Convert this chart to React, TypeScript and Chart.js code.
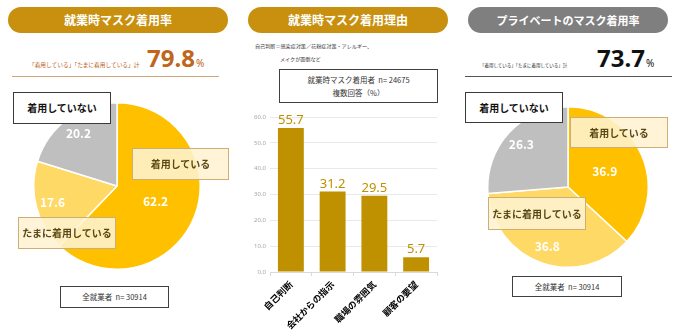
import React, { useEffect, useRef } from "react";
import { Chart, registerables } from "chart.js";

Chart.register(...registerables);

const pieLabels = ["着用している", "たまに着用している", "着用していない"];
const workValues = [62.2, 17.6, 20.2];
const privateValues = [36.9, 36.8, 26.3];
const reasonCategories = ["自己判断", "会社からの指示", "職場の雰囲気", "顧客の要望"];
const reasonValues = [55.7, 31.2, 29.5, 5.7];
const yTicks = [0, 10, 20, 30, 40, 50, 60];
const workTotal = "79.8";
const privateTotal = "73.7";
const workN = "30914";
const reasonN = "24675";
const privateN = "30914";

const JP = '"Noto Sans CJK JP", "Noto Sans", sans-serif';
const NUM = '"Noto Sans", "Noto Sans CJK JP", sans-serif';
const pieColors = ["#FFC000", "#FFD966", "#BFBFBF"];
const GOLD_HEADER = "#C8900E";
const BAR_COLOR = "#BF9000";

function PieChart(props: {
  values: number[];
  cx: number;
  cy: number;
  r: number;
  factors: number[];
}) {
  const ref = useRef<HTMLCanvasElement>(null);
  const { values, cx, cy, r, factors } = props;
  const size = r * 2 + 2;
  useEffect(() => {
    const labelPlugin = {
      id: "arcLabels",
      afterDatasetsDraw(chart: any) {
        const ctx = chart.ctx;
        const meta = chart.getDatasetMeta(0);
        ctx.save();
        ctx.fillStyle = "#ffffff";
        ctx.font = `bold 12px ${JP}`;
        ctx.textAlign = "center";
        ctx.textBaseline = "middle";
        meta.data.forEach((arc: any, i: number) => {
          const p = arc.getProps(["x", "y", "startAngle", "endAngle", "outerRadius"], true);
          const mid = (p.startAngle + p.endAngle) / 2;
          const rr = p.outerRadius * factors[i];
          ctx.fillText(values[i].toFixed(1), p.x + Math.cos(mid) * rr, p.y + Math.sin(mid) * rr);
        });
        ctx.restore();
      },
    };
    const chart = new Chart(ref.current as HTMLCanvasElement, {
      type: "pie",
      data: {
        labels: pieLabels,
        datasets: [
          {
            data: values,
            backgroundColor: pieColors,
            borderColor: "#ffffff",
            borderWidth: 1.5,
          },
        ],
      },
      options: {
        animation: false,
        responsive: false,
        layout: { padding: 0 },
        plugins: { legend: { display: false }, tooltip: { enabled: false } },
      },
      plugins: [labelPlugin],
    } as any);
    return () => chart.destroy();
  }, []);
  return (
    <canvas
      ref={ref}
      width={size}
      height={size}
      style={{ position: "absolute", left: cx - size / 2, top: cy - size / 2, width: size, height: size }}
    />
  );
}

function BarChart() {
  const ref = useRef<HTMLCanvasElement>(null);
  useEffect(() => {
    const valuePlugin = {
      id: "barValues",
      afterDatasetsDraw(chart: any) {
        const ctx = chart.ctx;
        const meta = chart.getDatasetMeta(0);
        ctx.save();
        ctx.fillStyle = BAR_COLOR;
        ctx.font = `13px ${NUM}`;
        ctx.textAlign = "center";
        ctx.textBaseline = "bottom";
        meta.data.forEach((bar: any, i: number) => {
          ctx.fillText(reasonValues[i].toFixed(1), bar.x, bar.y - 1);
        });
        ctx.restore();
      },
    };
    const chart = new Chart(ref.current as HTMLCanvasElement, {
      type: "bar",
      data: {
        labels: reasonCategories,
        datasets: [
          {
            data: reasonValues,
            backgroundColor: BAR_COLOR,
            barPercentage: 0.62,
            categoryPercentage: 1,
          },
        ],
      },
      options: {
        animation: false,
        responsive: false,
        layout: { padding: { top: 17, right: 5, left: 0, bottom: 0 } },
        plugins: { legend: { display: false }, tooltip: { enabled: false } },
        scales: {
          x: {
            grid: {
              display: true,
              drawOnChartArea: false,
              drawTicks: true,
              tickLength: 4,
              color: "#d9d9d9",
              offset: true,
            },
            border: { display: true, color: "#d9d9d9" },
            ticks: {
              minRotation: 45,
              maxRotation: 45,
              autoSkip: false,
              font: { family: JP, size: 9, weight: "bold" },
              color: "#000000",
              padding: 3,
            },
            afterFit: (s: any) => {
              s.height = 58;
            },
          },
          y: {
            min: 0,
            max: 60,
            afterBuildTicks: (s: any) => {
              s.ticks = yTicks.map((v) => ({ value: v }));
            },
            ticks: {
              callback: (v: any) => Number(v).toFixed(1),
              font: { family: NUM, size: 6 },
              color: "#a6a6a6",
              padding: 4,
            },
            grid: { color: "#e9e9e9", drawTicks: false },
            border: { display: false },
            afterFit: (s: any) => {
              s.width = 34;
            },
          },
        },
      },
      plugins: [valuePlugin],
    } as any);
    return () => chart.destroy();
  }, []);
  return (
    <canvas
      ref={ref}
      width={206}
      height={230}
      style={{ position: "absolute", left: 236, top: 100, width: 206, height: 230 }}
    />
  );
}

function Header(props: { left: number; width: number; text: string; bg: string; fs: number }) {
  return (
    <div
      style={{
        position: "absolute",
        left: props.left,
        top: 7,
        width: props.width,
        height: 26,
        borderRadius: 13,
        background: props.bg,
        color: "#ffffff",
        fontFamily: JP,
        fontWeight: 700,
        fontSize: props.fs,
        display: "flex",
        alignItems: "center",
        justifyContent: "center",
        lineHeight: 1,
      }}
    >
      {props.text}
    </div>
  );
}

function LabelBox(props: {
  left: number;
  top: number;
  width: number;
  height: number;
  text: string;
  cream?: boolean;
}) {
  const cream = !!props.cream;
  return (
    <div
      style={{
        position: "absolute",
        left: props.left,
        top: props.top,
        width: props.width,
        height: props.height,
        boxSizing: "border-box",
        border: cream ? "1px solid #CDAE74" : "1px solid #3a3a3a",
        background: cream ? "rgba(255,243,210,0.88)" : "#ffffff",
        color: cream ? "#5A4816" : "#111111",
        fontFamily: JP,
        fontWeight: 700,
        fontSize: 10,
        display: "flex",
        alignItems: "center",
        justifyContent: "center",
        lineHeight: 1,
        whiteSpace: "nowrap",
      }}
    >
      {props.text}
    </div>
  );
}

function SmallBox(props: { left: number; top: number; width: number; height: number; lines: string[] }) {
  return (
    <div
      style={{
        position: "absolute",
        left: props.left,
        top: props.top,
        width: props.width,
        height: props.height,
        boxSizing: "border-box",
        border: "1px solid #404040",
        background: "#ffffff",
        color: "#333333",
        fontFamily: JP,
        fontSize: 7.5,
        display: "flex",
        flexDirection: "column",
        alignItems: "center",
        justifyContent: "space-evenly",
        lineHeight: 1,
        whiteSpace: "pre",
      }}
    >
      {props.lines.map((l, i) => (
        <div key={i}>{l}</div>
      ))}
    </div>
  );
}

function Total(props: {
  smallLeft: number;
  numLeft: number;
  smallSize: number;
  value: string;
  color: string;
  smallColor: string;
}) {
  return (
    <>
      <div
        style={{
          position: "absolute",
          left: props.smallLeft,
          top: 67 - props.smallSize * 0.88,
          fontFamily: JP,
          fontSize: props.smallSize,
          lineHeight: 1,
          color: props.smallColor,
          whiteSpace: "nowrap",
        }}
      >
        「着用している」「たまに着用している」計
      </div>
      <div
        style={{
          position: "absolute",
          left: props.numLeft,
          top: 46,
          display: "flex",
          alignItems: "baseline",
          lineHeight: 1,
          whiteSpace: "nowrap",
        }}
      >
        <span style={{ fontFamily: NUM, fontWeight: 700, fontSize: 24, color: props.color }}>{props.value}</span>
        <span style={{ fontFamily: NUM, fontSize: 10, color: props.color, marginLeft: 1 }}>%</span>
      </div>
    </>
  );
}

export default function App() {
  return (
    <div
      style={{
        position: "absolute",
        left: 0,
        top: 0,
        width: 683,
        height: 330,
        background: "#ffffff",
        overflow: "hidden",
      }}
    >
      {/* Panel 1 */}
      <Header left={8} width={220} text="就業時マスク着用率" bg={GOLD_HEADER} fs={12} />
      <Total smallLeft={29} numLeft={147} smallSize={5.7} value={workTotal} color="#C0651A" smallColor="#B9651F" />
      <div style={{ position: "absolute", left: 12, top: 76, width: 207, height: 1, background: "#CFA77A" }} />
      <PieChart values={workValues} cx={117} cy={186} r={83} factors={[0.5, 0.8, 0.78]} />
      <LabelBox left={13} top={92} width={98} height={32} text="着用していない" />
      <LabelBox left={132} top={148} width={97} height={32} text="着用している" cream />
      <LabelBox left={18} top={217} width={98} height={32} text="たまに着用している" cream />
      <SmallBox left={60} top={286} width={109} height={22} lines={[`全就業者  n= ${workN}`]} />

      {/* Panel 2 */}
      <Header left={248} width={200} text="就業時マスク着用理由" bg={GOLD_HEADER} fs={12} />
      <div
        style={{
          position: "absolute",
          left: 255,
          top: 43,
          fontFamily: JP,
          fontSize: 5.1,
          lineHeight: 1,
          color: "#333333",
          whiteSpace: "nowrap",
        }}
      >
        自己判断＝感染症対策／花粉症対策・アレルギー、
      </div>
      <div
        style={{
          position: "absolute",
          left: 280,
          top: 56,
          fontFamily: JP,
          fontSize: 5.1,
          lineHeight: 1,
          color: "#333333",
          whiteSpace: "nowrap",
        }}
      >
        メイクが面倒など
      </div>
      <SmallBox left={279} top={69} width={159} height={34} lines={[`就業時マスク着用者  n= ${reasonN}`, "複数回答（%）"]} />
      <BarChart />

      {/* Panel 3 */}
      <Header left={468} width={200} text="プライベートのマスク着用率" bg="#7F7F7F" fs={11} />
      <Total smallLeft={480} numLeft={597} smallSize={4.5} value={privateTotal} color="#111111" smallColor="#222222" />
      <div style={{ position: "absolute", left: 465, top: 76, width: 207, height: 1, background: "#555555" }} />
      <PieChart values={privateValues} cx={568} cy={187} r={80} factors={[0.5, 0.79, 0.79]} />
      <LabelBox left={465} top={92} width={98} height={31} text="着用していない" />
      <LabelBox left={570} top={117} width={98} height={31} text="着用している" cream />
      <LabelBox left={488} top={197} width={98} height={33} text="たまに着用している" cream />
      <SmallBox left={512} top={276} width={110} height={21} lines={[`全就業者  n= ${privateN}`]} />
    </div>
  );
}
